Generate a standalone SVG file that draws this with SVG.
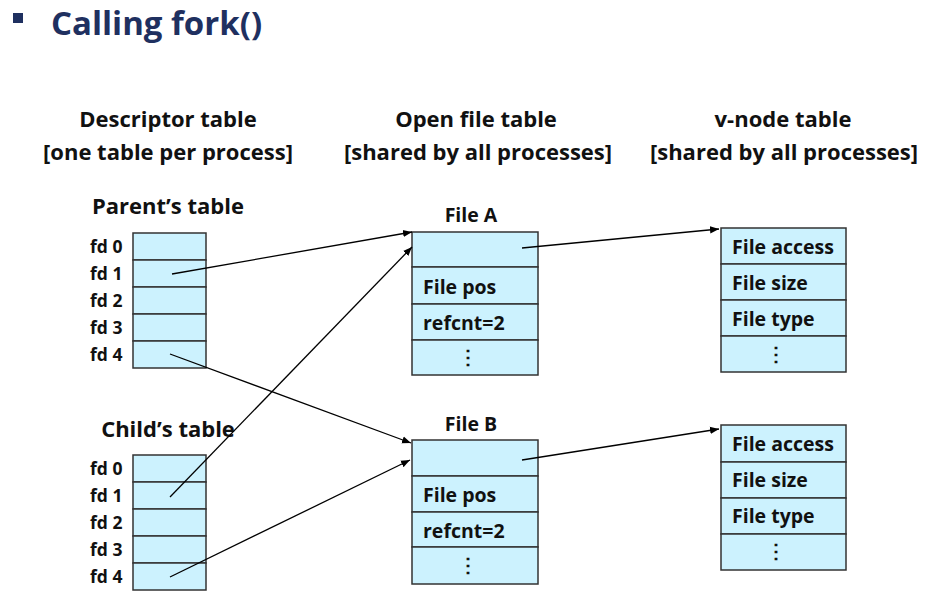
<svg xmlns="http://www.w3.org/2000/svg" width="938" height="609" viewBox="0 0 938 609">
<defs>
<marker id="ah" viewBox="0 0 10 10" refX="10" refY="5" markerWidth="9" markerHeight="9" markerUnits="userSpaceOnUse" orient="auto">
<path d="M0,1 L10,5 L0,9 z" fill="#000"/>
</marker>
<style>
.t{font-family:"Open Sans","Noto Sans","Liberation Sans",sans-serif;font-weight:700;fill:#111}
.h{font-size:22px;text-anchor:middle}
.fd{font-size:17.5px}
.c{font-size:19.5px}
.cell{fill:#ccf2fe;stroke:#333;stroke-width:1.5}
.cn{stroke:#000;stroke-width:1.3;fill:none;marker-end:url(#ah)}
</style>
</defs>
<rect width="938" height="609" fill="#fff"/>
<g id="title">
<rect x="13" y="13" width="10" height="10" fill="#1f3060"/>
<text x="51" y="35" font-family="Open Sans,Noto Sans,sans-serif" font-weight="700" font-size="33" fill="#1f3060">Calling fork()</text>
</g>
<g id="headers">
<text class="t h" x="168" y="127">Descriptor table</text>
<text class="t h" x="168" y="160">[one table per process]</text>
<text class="t h" x="476" y="127">Open file table</text>
<text class="t h" x="478" y="160">[shared by all processes]</text>
<text class="t h" x="783" y="127">v-node table</text>
<text class="t h" x="784" y="160">[shared by all processes]</text>
</g>
<g id="parent">
<text class="t h" x="168" y="214">Parent’s table</text>
<rect class="cell" x="133" y="233" width="73" height="27"/>
<rect class="cell" x="133" y="260" width="73" height="27"/>
<rect class="cell" x="133" y="287" width="73" height="27"/>
<rect class="cell" x="133" y="314" width="73" height="27"/>
<rect class="cell" x="133" y="341" width="73" height="27"/>
<text class="t fd" x="90" y="253">fd 0</text>
<text class="t fd" x="90" y="280">fd 1</text>
<text class="t fd" x="90" y="307">fd 2</text>
<text class="t fd" x="90" y="334">fd 3</text>
<text class="t fd" x="90" y="361">fd 4</text>
</g>
<g id="child">
<text class="t h" x="168" y="437">Child’s table</text>
<rect class="cell" x="133" y="455" width="73" height="27"/>
<rect class="cell" x="133" y="482" width="73" height="27"/>
<rect class="cell" x="133" y="509" width="73" height="27"/>
<rect class="cell" x="133" y="536" width="73" height="27"/>
<rect class="cell" x="133" y="563" width="73" height="27"/>
<text class="t fd" x="90" y="475">fd 0</text>
<text class="t fd" x="90" y="502">fd 1</text>
<text class="t fd" x="90" y="529">fd 2</text>
<text class="t fd" x="90" y="556">fd 3</text>
<text class="t fd" x="90" y="583">fd 4</text>
</g>
<g id="fileA">
<text class="t c" x="471" y="222" text-anchor="middle">File A</text>
<rect class="cell" x="412" y="232" width="126" height="35"/>
<rect class="cell" x="412" y="267" width="126" height="37"/>
<rect class="cell" x="412" y="304" width="126" height="36"/>
<rect class="cell" x="412" y="340" width="126" height="35"/>
<text class="t c" x="423" y="294">File pos</text>
<text class="t c" x="423" y="330">refcnt=2</text>
<text class="t c" x="468" y="364" text-anchor="middle">⋮</text>
</g>
<g id="fileB">
<text class="t c" x="471" y="431" text-anchor="middle">File B</text>
<rect class="cell" x="412" y="440" width="126" height="36"/>
<rect class="cell" x="412" y="476" width="126" height="36"/>
<rect class="cell" x="412" y="512" width="126" height="35"/>
<rect class="cell" x="412" y="547" width="126" height="37"/>
<text class="t c" x="423" y="502">File pos</text>
<text class="t c" x="423" y="538">refcnt=2</text>
<text class="t c" x="468" y="572" text-anchor="middle">⋮</text>
</g>
<g id="vnodeA">
<rect class="cell" x="721" y="228" width="125" height="36"/>
<rect class="cell" x="721" y="264" width="125" height="36"/>
<rect class="cell" x="721" y="300" width="125" height="36"/>
<rect class="cell" x="721" y="336" width="125" height="36"/>
<text class="t c" x="732" y="254">File access</text>
<text class="t c" x="732" y="290">File size</text>
<text class="t c" x="732" y="326">File type</text>
<text class="t c" x="776" y="361" text-anchor="middle">⋮</text>
</g>
<g id="vnodeB">
<rect class="cell" x="721" y="425" width="125" height="37"/>
<rect class="cell" x="721" y="462" width="125" height="36"/>
<rect class="cell" x="721" y="498" width="125" height="36"/>
<rect class="cell" x="721" y="534" width="125" height="36"/>
<text class="t c" x="732" y="451">File access</text>
<text class="t c" x="732" y="487">File size</text>
<text class="t c" x="732" y="523">File type</text>
<text class="t c" x="776" y="558" text-anchor="middle">⋮</text>
</g>
<g id="connectors">
<line class="cn" x1="172" y1="274" x2="412" y2="232"/>
<line class="cn" x1="170" y1="354" x2="411" y2="443"/>
<line class="cn" x1="170" y1="497" x2="412" y2="247"/>
<line class="cn" x1="170" y1="577" x2="410" y2="460"/>
<line class="cn" x1="522" y1="248" x2="719" y2="229"/>
<line class="cn" x1="522" y1="460" x2="719" y2="429"/>
</g>
</svg>
